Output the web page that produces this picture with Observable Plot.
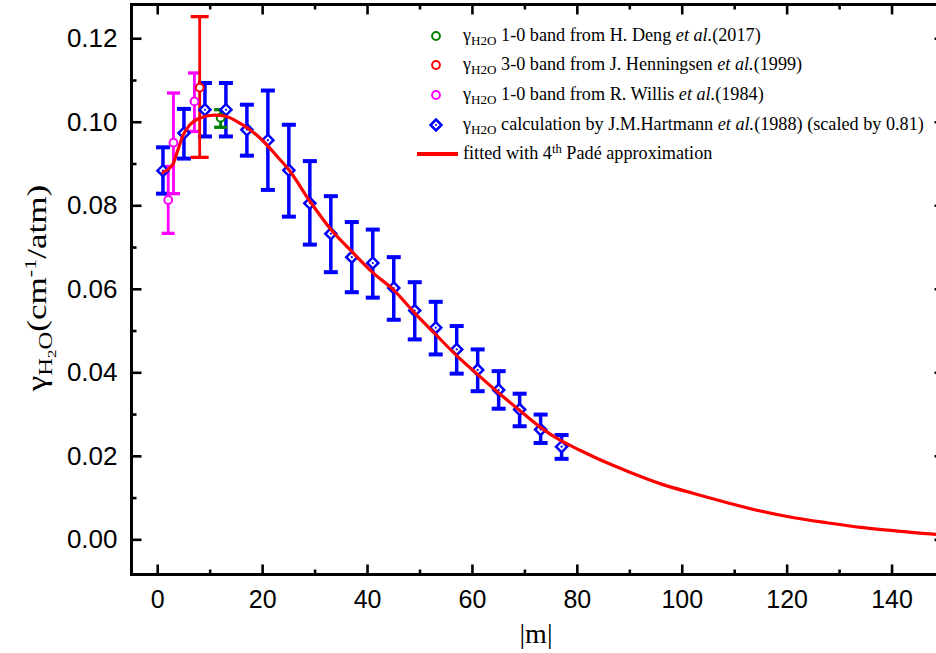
<!DOCTYPE html>
<html>
<head>
<meta charset="utf-8">
<script src="https://cdn.jsdelivr.net/npm/d3@7"></script>
<script src="https://cdn.jsdelivr.net/npm/@observablehq/plot@0.6"></script>
<style>
  html, body { margin: 0; padding: 0; background: white; }
  #wrap { position: relative; width: 936px; height: 653px; overflow: hidden; background: white; }
  .serif { font-family: "Liberation Serif", "Times New Roman", serif; color: black; }
  .leg { position: absolute; left: 463px; font-size: 18.2px; line-height: 22px; white-space: nowrap; }
  .sb { font-size: 0.72em; position: relative; top: 0.32em; }
  .sp { font-size: 0.7em; position: relative; top: -0.5em; }
  .mk { position: absolute; }
</style>
</head>
<body>
<div id="wrap"></div>
<script>
// ---------- data ----------
// Hartmann et al. (1988) calculation, scaled by 0.81
const hartM  = [1, 5, 9, 13, 17, 21, 25, 29, 33, 37, 41, 45, 49, 53, 57, 61, 65, 69, 73, 77];
const hartY  = [0.0884, 0.0974, 0.1030, 0.1030, 0.0982, 0.0957, 0.0885, 0.0806, 0.0733, 0.0677, 0.0663, 0.0603, 0.0549, 0.0508, 0.0456, 0.0407, 0.0359, 0.0312, 0.0264, 0.0223];
const hartLo = [0.0829, 0.0913, 0.0966, 0.0966, 0.0920, 0.0838, 0.0774, 0.0707, 0.0641, 0.0593, 0.0580, 0.0527, 0.0480, 0.0444, 0.0398, 0.0356, 0.0314, 0.0272, 0.0232, 0.0194];
const hartHi = [0.0940, 0.1032, 0.1094, 0.1094, 0.1042, 0.1076, 0.0994, 0.0907, 0.0823, 0.0761, 0.0743, 0.0677, 0.0617, 0.0570, 0.0512, 0.0456, 0.0404, 0.0350, 0.0300, 0.0251];

// Willis et al. (1984), 1-0 band
const willM  = [2, 3, 7];
const willY  = [0.0814, 0.0951, 0.1050];
const willLo = [0.0734, 0.0829, 0.0978];
const willHi = [0.0894, 0.1070, 0.1118];

// Henningsen et al. (1999), 3-0 band
const henM  = [8];
const henY  = [0.1083];
const henLo = [0.0916];
const henHi = [0.1253];

// Deng et al. (2017), 1-0 band
const dengM  = [12];
const dengY  = [0.1011];
const dengLo = [0.0988];
const dengHi = [0.1030];

// 4th order Padé fit
const fitM = [1, 2.9, 3.8, 4.8, 6, 8.2, 10.8, 12.7, 15.9, 19.7, 23, 25, 28.9, 32.9, 36.8, 41, 45, 49, 52.9, 57, 60.8, 64.8, 68.9, 72.9, 76.8, 80.6, 85, 90, 95.9, 102.2, 108.6, 114.9, 121.3, 127.6, 134, 140.3, 148.4, 150];
const fitY = [0.0880, 0.0900, 0.0932, 0.0968, 0.0992, 0.1011, 0.1017, 0.1015, 0.0996, 0.0960, 0.0915, 0.0886, 0.0813, 0.0745, 0.0693, 0.0640, 0.0598, 0.0543, 0.0493, 0.0441, 0.0398, 0.0354, 0.0311, 0.0270, 0.0238, 0.0214, 0.0188, 0.0162, 0.0134, 0.0111, 0.0089, 0.0069, 0.0053, 0.0041, 0.0030, 0.0022, 0.0013, 0.0012];

// axes
const xMajor = [0, 20, 40, 60, 80, 100, 120, 140];
const xMinor = [10, 30, 50, 70, 90, 110, 130];
const yMajor = [0, 0.02, 0.04, 0.06, 0.08, 0.10, 0.12];
const yMinor = [0.01, 0.03, 0.05, 0.07, 0.09, 0.11];
const xDomain = [-5, 150];
const yDomain = [-0.0083, 0.1282];

// ---------- build tables ----------
const rows = (ms, ys, lo, hi) => ms.map((m, i) => ({m, y: ys[i], lo: lo[i], hi: hi[i]}));
const hart = rows(hartM, hartY, hartLo, hartHi);
const will = rows(willM, willY, willLo, willHi);
const hen  = rows(henM, henY, henLo, henHi);
const deng = rows(dengM, dengY, dengLo, dengHi);
const fit  = fitM.map((m, i) => ({m, y: fitY[i]}));

// custom symbols
const cap = (w) => ({draw(ctx) { ctx.moveTo(-w, 0); ctx.lineTo(w, 0); }});
const tick = (dx, dy) => ({draw(ctx) { ctx.moveTo(0, 0); ctx.lineTo(dx, dy); }});

const BLUE = "#0000ff", RED = "#ff0000", MAG = "#ff00ff", GREEN = "#008000";

function errMarks(data, color, w, sw) {
  return [
    Plot.ruleX(data, {x: "m", y1: "lo", y2: "hi", stroke: color, strokeWidth: sw}),
    Plot.dot(data, {x: "m", y: "lo", symbol: cap(w), stroke: color, strokeWidth: sw + 0.5, r: 3}),
    Plot.dot(data, {x: "m", y: "hi", symbol: cap(w), stroke: color, strokeWidth: sw + 0.5, r: 3})
  ];
}

const chart = Plot.plot({
  width: 950, height: 653,
  marginLeft: 131, marginRight: 6, marginTop: 4, marginBottom: 79,
  x: {domain: xDomain},
  y: {domain: yDomain},
  style: {fontFamily: "'Liberation Sans', Arial, sans-serif", fontSize: "25px", color: "black", background: "white", maxWidth: "none"},
  marks: [
    Plot.axisX({ticks: xMajor, tickSize: 0, tickPadding: 16, label: null, fontSize: 25}),
    Plot.axisY({ticks: yMajor, tickSize: 0, tickPadding: 14, label: null, fontSize: 26, tickFormat: d => d.toFixed(2)}),
    // inward ticks on all four sides
    Plot.dot(xMajor, {x: d => d, y: () => yDomain[0], symbol: tick(0, -10), stroke: "black", strokeWidth: 2.6}),
    Plot.dot(xMinor, {x: d => d, y: () => yDomain[0], symbol: tick(0, -5), stroke: "black", strokeWidth: 2.6}),
    Plot.dot(xMajor, {x: d => d, y: () => yDomain[1], symbol: tick(0, 10), stroke: "black", strokeWidth: 2.6}),
    Plot.dot(xMinor, {x: d => d, y: () => yDomain[1], symbol: tick(0, 5), stroke: "black", strokeWidth: 2.6}),
    Plot.dot(yMajor, {y: d => d, x: () => xDomain[0], symbol: tick(10, 0), stroke: "black", strokeWidth: 2.6}),
    Plot.dot(yMinor, {y: d => d, x: () => xDomain[0], symbol: tick(5, 0), stroke: "black", strokeWidth: 2.6}),
    Plot.dot(yMajor, {y: d => d, x: () => xDomain[1], symbol: tick(-10, 0), stroke: "black", strokeWidth: 2.6}),
    Plot.dot(yMinor, {y: d => d, x: () => xDomain[1], symbol: tick(-5, 0), stroke: "black", strokeWidth: 2.6}),
    // error bars
    ...errMarks(hart, BLUE, 7, 3.5),
    ...errMarks(will, MAG, 6.5, 2.8),
    ...errMarks(hen, RED, 9, 2.8),
    ...errMarks(deng, GREEN, 6.5, 2.8),
    // points
    Plot.dot(hart, {x: "m", y: "y", symbol: "diamond2", r: 5, stroke: BLUE, strokeWidth: 2.5, fill: "white"}),
    Plot.dot(hart, {x: "m", y: "y", r: 1.1, fill: BLUE}),
    Plot.dot(deng, {x: "m", y: "y", r: 3.9, stroke: GREEN, strokeWidth: 2, fill: "white"}),
    // fitted curve
    Plot.line(fit, {x: "m", y: "y", stroke: RED, strokeWidth: 3.2, curve: "monotone-x", clip: true}),
    Plot.dot(will, {x: "m", y: "y", r: 3.9, stroke: MAG, strokeWidth: 2, fill: "white"}),
    Plot.dot(hen, {x: "m", y: "y", r: 3.9, stroke: RED, strokeWidth: 2, fill: "white"}),
    Plot.frame({stroke: "black", strokeWidth: 3})
  ]
});
chart.style.maxWidth = "none";
chart.style.height = "653px";
chart.style.width = "950px";

const wrap = document.getElementById("wrap");
wrap.appendChild(chart);

// ---------- y axis title (SVG text inside the chart) ----------
const ns = "http://www.w3.org/2000/svg";
const yt = document.createElementNS(ns, "text");
yt.setAttribute("transform", "translate(46,288) rotate(-90) scale(1.3,1)");
yt.setAttribute("text-anchor", "middle");
yt.setAttribute("font-family", "'Liberation Serif', 'Times New Roman', serif");
yt.setAttribute("font-size", "27");
yt.setAttribute("fill", "black");
yt.innerHTML = 'γ<tspan dy="6" font-size="19">H</tspan><tspan dy="4" font-size="13">2</tspan><tspan dy="-4" font-size="19">O</tspan><tspan dy="-6" font-size="27">(cm</tspan><tspan dy="-10" font-size="17">-1</tspan><tspan dy="10" font-size="27">/atm)</tspan>';
chart.appendChild(yt);

// ---------- x axis title ----------
const xl = document.createElement("div");
xl.className = "serif";
xl.style.cssText = "position:absolute;left:536px;top:634px;transform:translate(-50%,-50%);font-size:28px;white-space:nowrap;line-height:30px;";
xl.textContent = "|m|";
wrap.appendChild(xl);

// ---------- legend ----------
const legendRows = [
  {cy: 36,  kind: "circle", color: GREEN, html: 'γ<span class="sb">H2O</span> 1-0 band from H. Deng <i>et al.</i>(2017)'},
  {cy: 65,  kind: "circle", color: RED,   html: 'γ<span class="sb">H2O</span> 3-0 band from J. Henningsen <i>et al.</i>(1999)'},
  {cy: 94.5,kind: "circle", color: MAG,   html: 'γ<span class="sb">H2O</span> 1-0 band from R. Willis <i>et al.</i>(1984)'},
  {cy: 124.5,kind: "diamond", color: BLUE, html: 'γ<span class="sb">H2O</span> calculation by J.M.Hartmann <i>et al.</i>(1988) (scaled by 0.81)'},
  {cy: 154, kind: "line",   color: RED,   html: 'fitted with 4<span class="sp">th</span> Padé approximation'}
];
legendRows.forEach(r => {
  const t = document.createElement("div");
  t.className = "serif leg";
  t.style.top = (r.cy - 12) + "px";
  t.innerHTML = r.html;
  wrap.appendChild(t);
  const s = document.createElementNS(ns, "svg");
  s.setAttribute("class", "mk");
  s.setAttribute("width", 50); s.setAttribute("height", 20);
  s.style.left = "412px"; s.style.top = (r.cy - 10) + "px";
  let el;
  if (r.kind === "circle") {
    el = document.createElementNS(ns, "circle");
    el.setAttribute("cx", 24); el.setAttribute("cy", 10); el.setAttribute("r", 3.9);
    el.setAttribute("fill", "white"); el.setAttribute("stroke", r.color); el.setAttribute("stroke-width", 2);
  } else if (r.kind === "diamond") {
    el = document.createElementNS(ns, "g");
    el.innerHTML = '<path d="M24,4.5L29.5,10L24,15.5L18.5,10Z" fill="white" stroke="' + r.color + '" stroke-width="2.5"/><circle cx="24" cy="10" r="1.1" fill="' + r.color + '"/>';
  } else {
    el = document.createElementNS(ns, "line");
    el.setAttribute("x1", 5); el.setAttribute("x2", 46); el.setAttribute("y1", 10); el.setAttribute("y2", 10);
    el.setAttribute("stroke", r.color); el.setAttribute("stroke-width", 4);
  }
  s.appendChild(el);
  wrap.appendChild(s);
});
</script>
</body>
</html>
